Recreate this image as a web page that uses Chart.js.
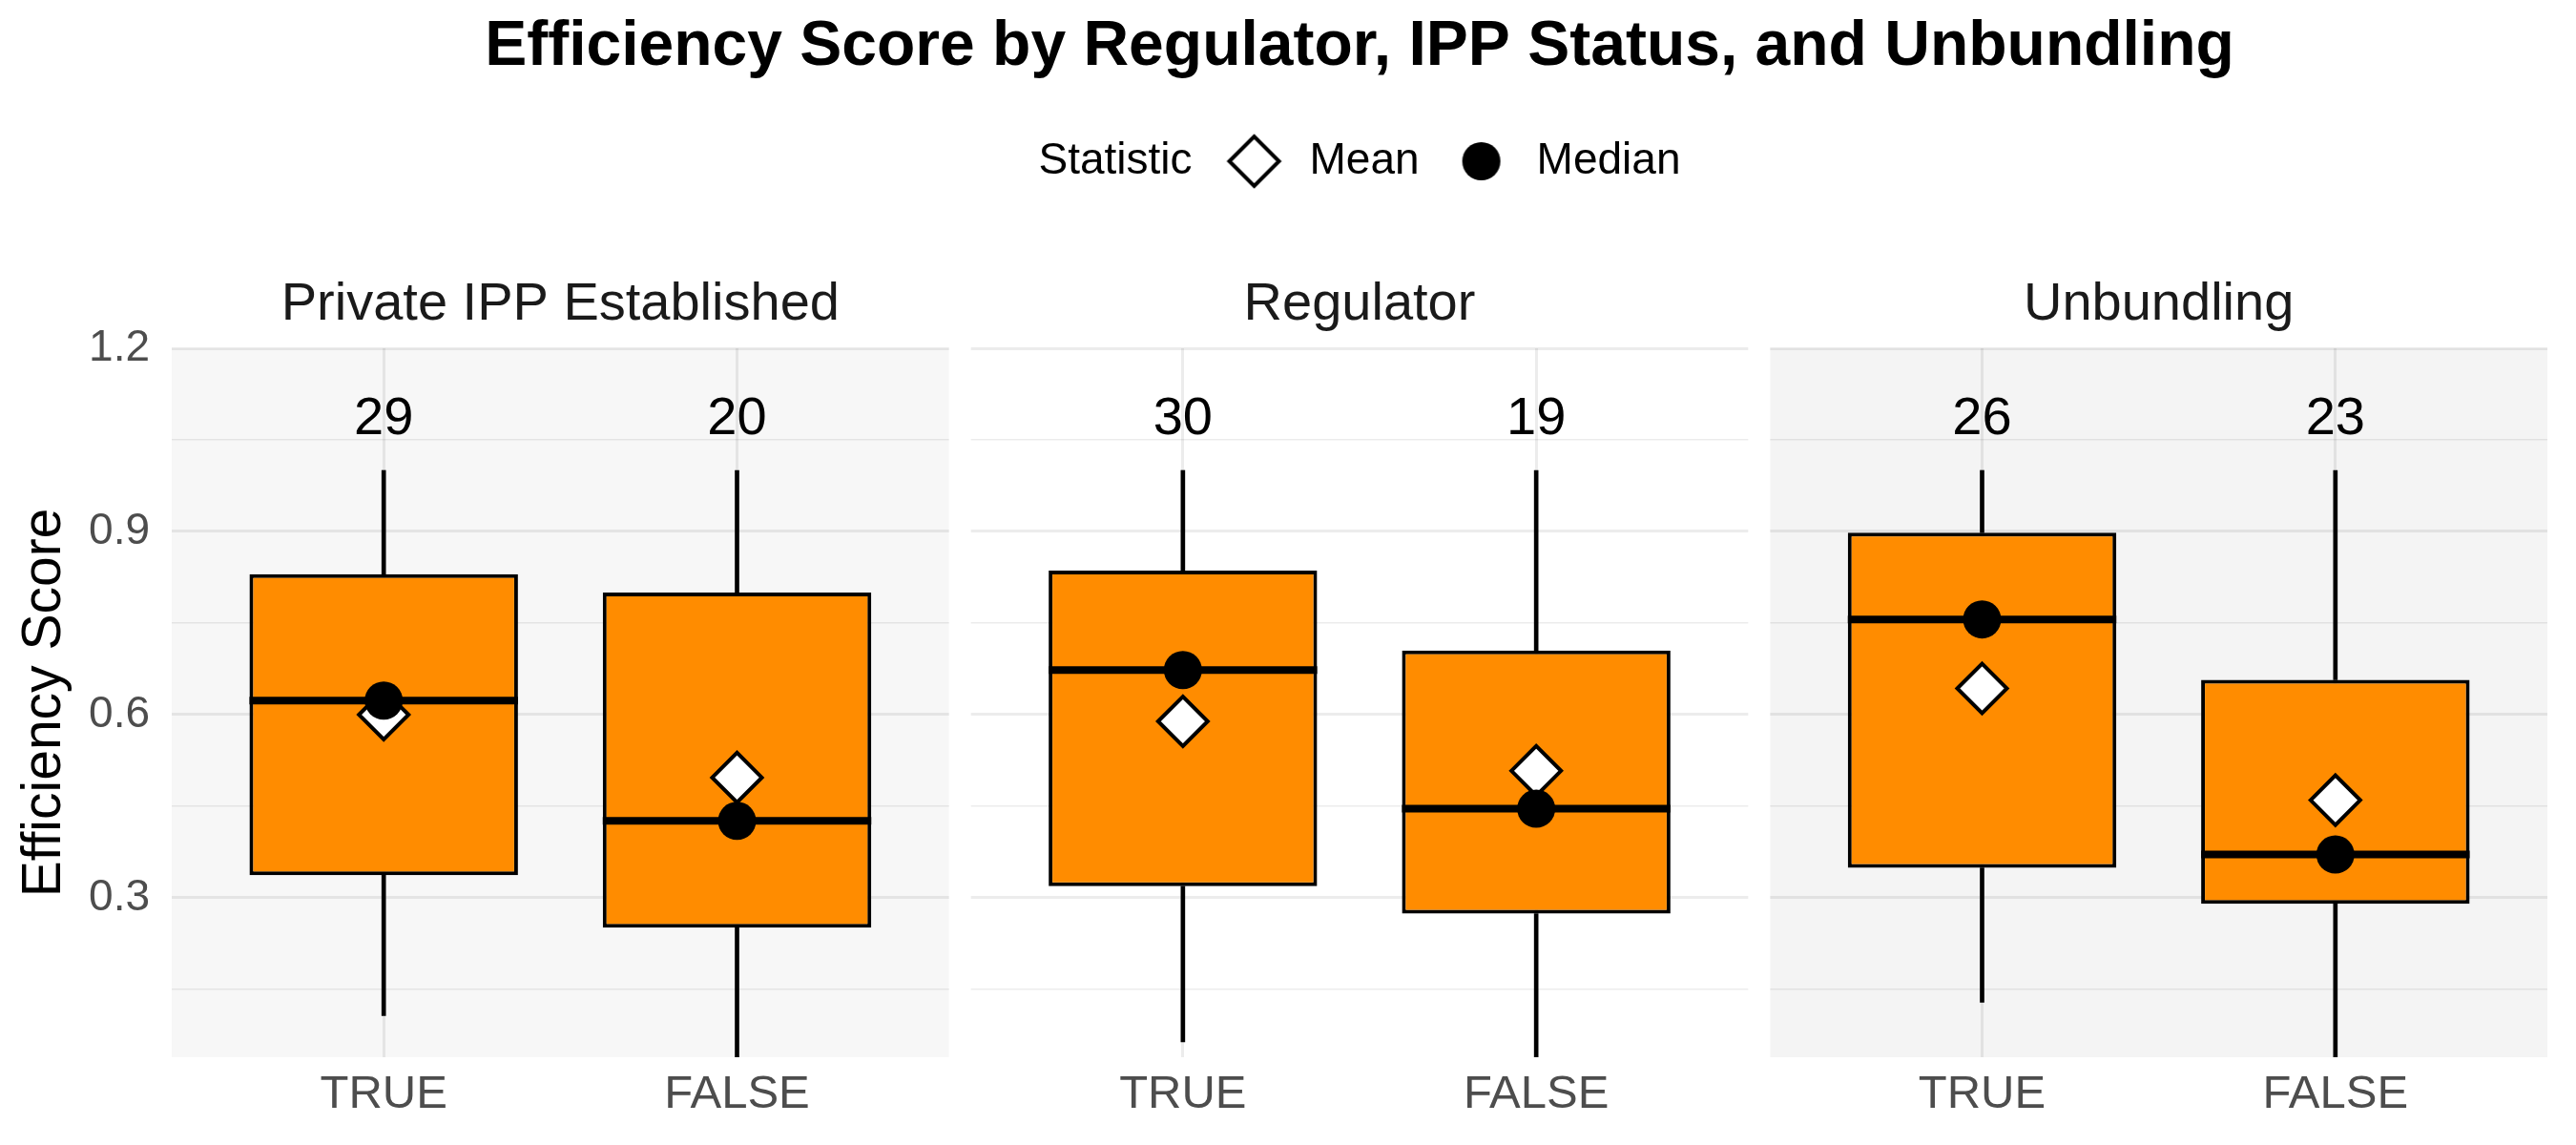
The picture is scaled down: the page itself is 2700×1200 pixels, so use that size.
<!DOCTYPE html>
<html>
<head>
<meta charset="utf-8">
<script src="https://cdn.jsdelivr.net/npm/chart.js@4.4.1/dist/chart.umd.min.js"></script>
<style>
  html, body { margin: 0; padding: 0; background: #ffffff; }
  canvas { display: block; }
</style>
</head>
<body>
<canvas id="chart" width="2700" height="1200"></canvas>
<script>
// ---------------- data ----------------
const PANELS = ['Private IPP Established', 'Regulator', 'Unbundling'];
const CATEGORIES = ['TRUE', 'FALSE'];
const COUNTS = [29, 20, 30, 19, 26, 23];
const WHISKER_LOW = [0.107, 0.02, 0.064, 0.02, 0.129, 0.02];
const Q1 = [0.337, 0.251, 0.319, 0.274, 0.349, 0.290];
const MEDIAN = [0.623, 0.426, 0.673, 0.446, 0.756, 0.371];
const Q3 = [0.830, 0.800, 0.836, 0.705, 0.898, 0.657];
const WHISKER_HIGH = [1.0, 1.0, 1.0, 1.0, 1.0, 1.0];
const MEAN = [0.600, 0.497, 0.589, 0.508, 0.643, 0.460];
const Y_TICKS = [0.15, 0.3, 0.45, 0.6, 0.75, 0.9, 1.05, 1.2];
const Y_MIN = 0.039;
const Y_MAX = 1.2;
const COUNT_LABEL_Y = 1.083;

// ---------------- facet layout (x units) ----------------
const PANEL_SPAN = 2.2, PANEL_GAP = 0.062, CAT_OFFSET = 0.6;
const PANEL_BG = ['#F7F7F7', '#FFFFFF', '#F4F4F4'];
const GRID = 'rgba(0,0,0,0.075)';
const panelStart = p => p * (PANEL_SPAN + PANEL_GAP);
const X_POS = [], X_LABELS = [];
PANELS.forEach((_, p) => CATEGORIES.forEach((c, k) => {
  X_POS.push(panelStart(p) + CAT_OFFSET + k);
  X_LABELS.push(c);
}));
const X_MAX = panelStart(PANELS.length - 1) + PANEL_SPAN;
const isMajor = v => Math.abs(v / 0.3 - Math.round(v / 0.3)) < 1e-6;

const FONT = "'Liberation Sans', Arial, Helvetica, sans-serif";
Chart.defaults.font.family = FONT;

const LEGEND_BOX = 70, LEGEND_FONT = 46;

function symbolCanvas(kind) {
  const c = document.createElement('canvas');
  const s = kind === 'diamond' ? 64 : (kind === 'circle' ? 42 : 1);
  c.width = s; c.height = s;
  const g = c.getContext('2d');
  if (kind === 'diamond') {
    const r = 26, m = s / 2;
    g.beginPath();
    g.moveTo(m - r, m); g.lineTo(m, m - r); g.lineTo(m + r, m); g.lineTo(m, m + r);
    g.closePath();
    g.fillStyle = '#ffffff'; g.fill();
    g.lineWidth = 4; g.strokeStyle = '#000000'; g.stroke();
  } else if (kind === 'circle') {
    g.beginPath(); g.arc(s / 2, s / 2, 20, 0, Math.PI * 2);
    g.fillStyle = '#000000'; g.fill();
  }
  return c;
}
const SYM_BLANK = symbolCanvas('blank');
const SYM_DIAMOND = symbolCanvas('diamond');
const SYM_CIRCLE = symbolCanvas('circle');

const facetPlugin = {
  id: 'facets',
  beforeDraw(chart) {
    const {ctx, chartArea: a, scales: {x}} = chart;
    ctx.save();
    ctx.fillStyle = '#ffffff';
    ctx.fillRect(0, 0, chart.width, chart.height);
    PANELS.forEach((_, p) => {
      const l = x.getPixelForValue(panelStart(p));
      const r = x.getPixelForValue(panelStart(p) + PANEL_SPAN);
      ctx.fillStyle = PANEL_BG[p];
      ctx.fillRect(l, a.top, r - l, a.bottom - a.top);
    });
    ctx.restore();
  },
  beforeDatasetsDraw(chart) {
    const {ctx, chartArea: a, scales: {x}} = chart;
    ctx.save();
    ctx.fillStyle = '#ffffff';
    for (let p = 0; p < PANELS.length - 1; p++) {
      const l = x.getPixelForValue(panelStart(p) + PANEL_SPAN);
      const r = x.getPixelForValue(panelStart(p + 1));
      ctx.fillRect(l, a.top - 3, r - l, a.bottom - a.top + 3);
    }
    ctx.restore();
  },
  afterDatasetDraw(chart, args) {
    if (args.index !== 2) return;
    const {ctx, scales: {y}} = chart;
    ctx.save();
    ctx.strokeStyle = '#000000';
    ctx.lineWidth = 8;
    ctx.lineCap = 'butt';
    args.meta.data.forEach((bar, i) => {
      const py = y.getPixelForValue(MEDIAN[i]);
      ctx.beginPath();
      ctx.moveTo(bar.x - bar.width / 2, py);
      ctx.lineTo(bar.x + bar.width / 2, py);
      ctx.stroke();
    });
    ctx.restore();
  },
  afterDatasetsDraw(chart) {
    const {ctx, scales: {x, y}} = chart;
    ctx.save();
    ctx.fillStyle = '#000000';
    ctx.font = '56px ' + FONT;
    ctx.textAlign = 'center';
    ctx.textBaseline = 'middle';
    COUNTS.forEach((n, i) => {
      ctx.fillText(String(n), x.getPixelForValue(X_POS[i]), y.getPixelForValue(COUNT_LABEL_Y));
    });
    ctx.restore();
  },
  afterLayout(chart) {
    // the "Statistic" heading has no symbol; re-centre the visible legend content
    const lg = chart.legend;
    if (lg) {
      const s = (LEGEND_BOX + LEGEND_FONT / 2) / 2;
      lg.left -= s; lg.right -= s;
    }
  }
};

const pts = vals => X_POS.map((x, i) => ({x, y: vals[i]}));
const ranges = (lo, hi) => X_POS.map((x, i) => ({x, y: [lo[i], hi[i]]}));

new Chart(document.getElementById('chart'), {
  data: {
    datasets: [
      { type: 'bar', label: 'lower whisker', data: ranges(WHISKER_LOW, Q1),
        backgroundColor: '#000000', barThickness: 4, grouped: false, order: 5, clip: 0 },
      { type: 'bar', label: 'upper whisker', data: ranges(Q3, WHISKER_HIGH),
        backgroundColor: '#000000', barThickness: 4, grouped: false, order: 5, clip: 0 },
      { type: 'bar', label: 'box', data: ranges(Q1, Q3),
        backgroundColor: '#FF8C00', borderColor: '#000000', borderWidth: 4, borderSkipped: false,
        barPercentage: 0.76, categoryPercentage: 1, grouped: false, order: 4 },
      { type: 'line', label: 'Mean', data: pts(MEAN), showLine: false,
        pointStyle: 'rectRot', pointRadius: 26, pointHoverRadius: 26,
        pointBackgroundColor: '#ffffff', pointBorderColor: '#000000', pointBorderWidth: 4, order: 2 },
      { type: 'line', label: 'Median', data: pts(MEDIAN), showLine: false,
        pointStyle: 'circle', pointRadius: 20, pointHoverRadius: 20,
        pointBackgroundColor: '#000000', pointBorderColor: '#000000', pointBorderWidth: 0, order: 1 }
    ]
  },
  options: {
    responsive: false,
    animation: false,
    devicePixelRatio: 1,
    events: [],
    layout: { padding: { left: 0, right: 23, top: 0, bottom: 0 } },
    plugins: {
      title: {
        display: true, fullSize: false,
        text: 'Efficiency Score by Regulator, IPP Status, and Unbundling',
        color: '#000000', font: { size: 66, weight: 'bold', lineHeight: 1.2 },
        padding: { top: 10, bottom: 26.8 }
      },
      legend: {
        display: true, position: 'top', align: 'center', fullSize: false,
        labels: {
          usePointStyle: true, pointStyleWidth: LEGEND_BOX, padding: 30,
          color: '#000000', font: { size: LEGEND_FONT },
          generateLabels: () => [
            { text: 'Statistic', pointStyle: SYM_BLANK, fillStyle: 'rgba(0,0,0,0)', strokeStyle: 'rgba(0,0,0,0)', lineWidth: 0, hidden: false, fontColor: '#000000' },
            { text: 'Mean', pointStyle: SYM_DIAMOND, fillStyle: '#ffffff', strokeStyle: '#000000', lineWidth: 0, hidden: false, datasetIndex: 3, fontColor: '#000000' },
            { text: 'Median', pointStyle: SYM_CIRCLE, fillStyle: '#000000', strokeStyle: '#000000', lineWidth: 0, hidden: false, datasetIndex: 4, fontColor: '#000000' }
          ]
        }
      },
      tooltip: { enabled: false }
    },
    scales: {
      x: {
        type: 'linear', position: 'bottom', min: 0, max: X_MAX, offset: false,
        afterBuildTicks: s => { s.ticks = X_POS.map(v => ({value: v})); },
        afterFit: s => { s.height = 92; },
        ticks: { callback: (v, i) => X_LABELS[i], font: { size: 49 }, color: '#4D4D4D',
                 padding: 10, autoSkip: false, maxRotation: 0 },
        grid: { color: GRID, lineWidth: 3, drawTicks: false, offset: false },
        border: { display: false }
      },
      strip: {
        type: 'linear', axis: 'x', position: 'top', min: 0, max: X_MAX, offset: false,
        afterBuildTicks: s => { s.ticks = PANELS.map((_, p) => ({value: panelStart(p) + PANEL_SPAN / 2})); },
        afterFit: s => { s.height = 163; },
        ticks: { callback: (v, i) => PANELS[i], font: { size: 56 }, color: '#1A1A1A',
                 padding: 12, autoSkip: false, maxRotation: 0 },
        grid: { display: false, drawTicks: false, offset: false },
        border: { display: false }
      },
      y: {
        type: 'linear', min: Y_MIN, max: Y_MAX,
        afterBuildTicks: s => { s.ticks = Y_TICKS.map(v => ({value: v})); },
        afterFit: s => { s.width = 180; },
        ticks: { callback: v => isMajor(v) ? v.toFixed(1) : '', font: { size: 46 }, color: '#4D4D4D',
                 padding: 23, autoSkip: false },
        grid: { color: GRID, lineWidth: c => (c.tick && isMajor(c.tick.value)) ? 3 : 1.6, drawTicks: false },
        border: { display: false },
        title: { display: true, text: 'Efficiency Score', color: '#000000', font: { size: 57 },
                 padding: { top: 13, bottom: 0 } }
      }
    }
  },
  plugins: [facetPlugin]
});
</script>
</body>
</html>
